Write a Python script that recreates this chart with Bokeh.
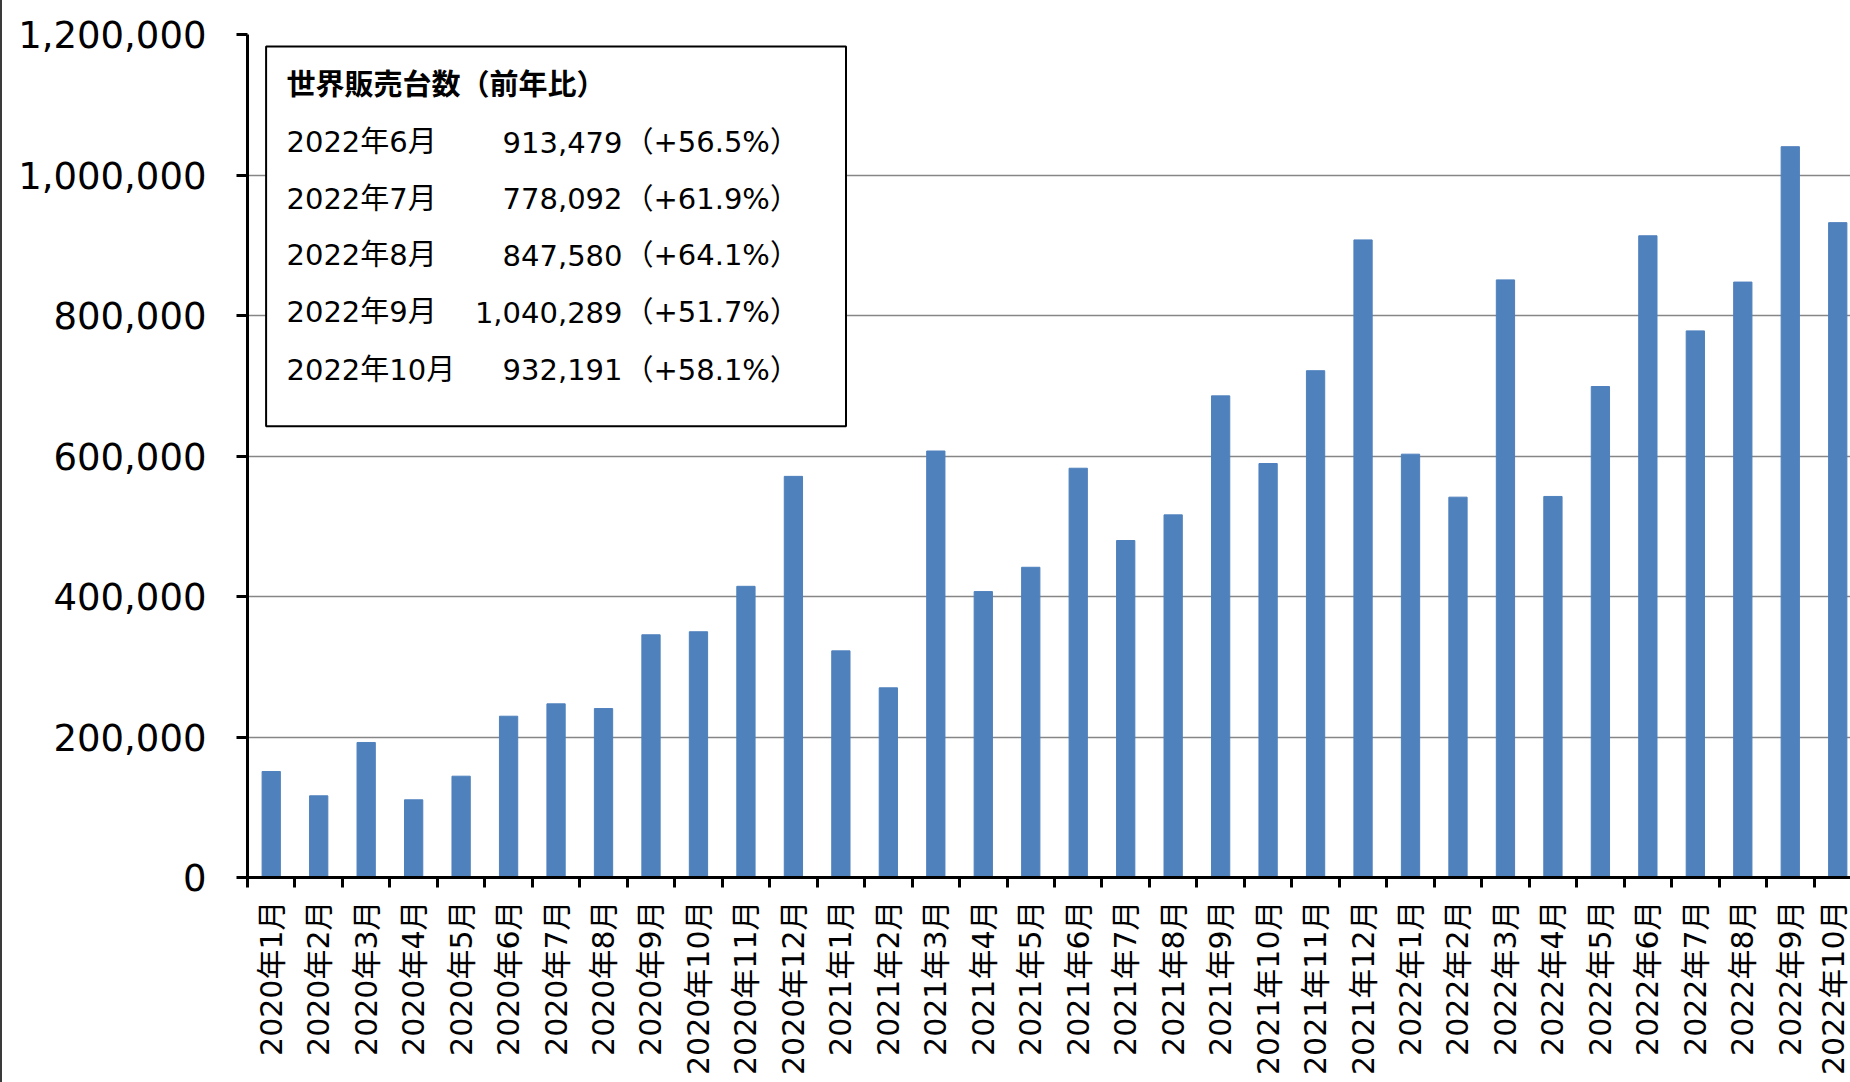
from bokeh.plotting import figure
from bokeh.models import (ColumnDataSource, Range1d, FixedTicker, NumeralTickFormatter,
                          BoxAnnotation, Label, CustomJSTickFormatter)
from bokeh.embed import file_html
from bokeh.resources import INLINE

# ---------------- data ----------------
months = [
    "2020年1月", "2020年2月", "2020年3月", "2020年4月", "2020年5月", "2020年6月",
    "2020年7月", "2020年8月", "2020年9月", "2020年10月", "2020年11月", "2020年12月",
    "2021年1月", "2021年2月", "2021年3月", "2021年4月", "2021年5月", "2021年6月",
    "2021年7月", "2021年8月", "2021年9月", "2021年10月", "2021年11月", "2021年12月",
    "2022年1月", "2022年2月", "2022年3月", "2022年4月", "2022年5月", "2022年6月",
    "2022年7月", "2022年8月", "2022年9月", "2022年10月",
]
sales = [
    150900, 116300, 192200, 110600, 144200, 229600,
    247200, 240500, 345500, 349800, 414500, 571000,
    322600, 270000, 607100, 407000, 441600, 582600,
    479700, 516200, 685600, 589300, 721400, 907600,
    602600, 541400, 850700, 542400, 698900, 913479,
    778092, 847580, 1040289, 932191,
]
y_ticks = [0, 200000, 400000, 600000, 800000, 1000000, 1200000]

box_title = "世界販売台数（前年比）"
box_months = ["2022年6月", "2022年7月", "2022年8月", "2022年9月", "2022年10月"]
box_values = [913479, 778092, 847580, 1040289, 932191]
box_yoy = [56.5, 61.9, 64.1, 51.7, 58.1]

# ---------------- layout constants ----------------
CAT_PX = 47.47          # pixels per category
AXIS_X = 247            # page x of the value axis
BASE_Y = 877            # page y of the zero line
FRAME_W = 1850 - AXIS_X
FRAME_H = 843
Y_MAX = 1200000
PX_Y = Y_MAX / FRAME_H  # data units per pixel (vertical)

centers = [i + 0.5 for i in range(len(months))]
boundaries = list(range(0, len(months) + 1))

src = ColumnDataSource(data=dict(x=centers, top=sales, label=months))

FONT = "DejaVu Sans, Noto Sans CJK JP"

p = figure(
    frame_width=FRAME_W, frame_height=FRAME_H,
    x_range=Range1d(0, FRAME_W / CAT_PX), y_range=Range1d(0, Y_MAX),
    output_backend="svg", toolbar_location=None,
    min_border_left=AXIS_X - 2, min_border_right=0,
    min_border_top=BASE_Y - FRAME_H, min_border_bottom=1082 - BASE_Y,
    background_fill_color="white", border_fill_color="white",
)
p.styles = {"border-left": "2px solid #3a3a3a"}
p.outline_line_color = None

p.vbar(x="x", top="top", width=0.385, source=src, fill_color="#4F81BD",
       line_color="#4F81BD", line_width=1)

# grid
p.xgrid.visible = False
p.ygrid.ticker = FixedTicker(ticks=y_ticks)
p.ygrid.grid_line_color = "#868686"
p.ygrid.grid_line_width = 1.3

# y axis
ya = p.yaxis[0]
ya.ticker = FixedTicker(ticks=y_ticks)
ya.formatter = NumeralTickFormatter(format="0,0")
ya.axis_line_color = "black"
ya.axis_line_width = 3
ya.major_tick_line_color = "black"
ya.major_tick_line_width = 3
ya.major_tick_out = 11
ya.major_tick_in = 0
ya.minor_tick_line_color = None
ya.major_label_standoff = 30
ya.major_label_text_font = FONT
ya.major_label_text_font_size = "37px"
ya.major_label_text_color = "black"

# x axis
xa = p.xaxis[0]
xa.ticker = FixedTicker(ticks=centers, minor_ticks=boundaries)
xa.formatter = CustomJSTickFormatter(args=dict(labels=months),
                                     code="return labels[Math.floor(tick)] || '';")
xa.axis_line_color = "black"
xa.axis_line_width = 3
xa.major_tick_line_color = None
xa.major_tick_out = 0
xa.major_tick_in = 0
xa.minor_tick_line_color = "black"
xa.minor_tick_line_width = 3
xa.minor_tick_out = 10
xa.minor_tick_in = 0
xa.major_label_orientation = 3.14159265 / 2
xa.major_label_standoff = 13
xa.major_label_text_font = FONT
xa.major_label_text_font_size = "30px"
xa.major_label_text_color = "black"


# ---------------- text box ----------------
def dx(page_x):
    return (page_x - AXIS_X) / CAT_PX


def dy(page_y):
    return (BASE_Y - page_y) * PX_Y


box = BoxAnnotation(left=dx(265.6), right=dx(845.5), top=dy(46), bottom=dy(425.7),
                    fill_color="white", fill_alpha=1.0,
                    line_color="black", line_width=2, line_alpha=1.0)
p.add_layout(box)

p.add_layout(Label(x=dx(286), y=dy(84.5), text=box_title, text_font=FONT,
                   text_font_size="29px", text_font_style="bold",
                   text_baseline="alphabetic", text_align="left", text_color="black"))

row_baselines = [141.5, 198.0, 254.5, 311.5, 369.0]
for m, v, r, b in zip(box_months, box_values, box_yoy, row_baselines):
    p.add_layout(Label(x=dx(286), y=dy(b), text=m, text_font=FONT, text_font_size="29px",
                       text_baseline="alphabetic", text_align="left", text_color="black"))
    p.add_layout(Label(x=dx(622), y=dy(b), text=f"{v:,}", text_font=FONT,
                       text_font_size="29px", text_baseline="alphabetic",
                       text_align="right", text_color="black"))
    p.add_layout(Label(x=dx(624), y=dy(b), text=f"（+{r:.1f}%）", text_font=FONT,
                       text_font_size="29px", text_baseline="alphabetic",
                       text_align="left", text_color="black"))

open("out.html", "w").write(file_html(p, INLINE))
